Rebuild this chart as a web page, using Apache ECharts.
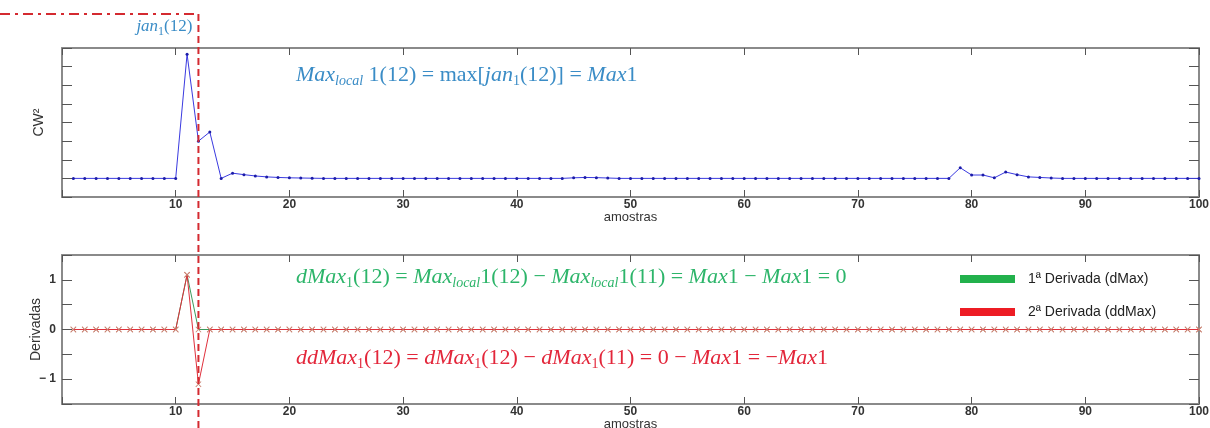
<!DOCTYPE html>
<html><head><meta charset="utf-8">
<script src="https://cdn.jsdelivr.net/npm/echarts@6/dist/echarts.min.js"></script>
<style>html,body{margin:0;padding:0;background:#fff}#c{width:1210px;height:428px}</style>
</head><body><div id="c"></div>
<script>
// CW^2 values for samples 1..100 (arbitrary units, tick units)
var cw2 = [
 0,0,0,0,0,0,0,0,0,0,
 6.67,2.0,2.49,0,0.28,0.2,0.13,0.08,0.05,0.03,
 0.02,0.01,0,0,0,0,0,0,0,0,
 0,0,0,0,0,0,0,0,0,0,
 0,0,0,0,0.03,0.05,0.04,0.02,0,0,
 0,0,0,0,0,0,0,0,0,0,
 0,0,0,0,0,0,0,0,0,0,
 0,0,0,0,0,0,0,0,0.57,0.18,
 0.18,0.03,0.34,0.2,0.08,0.05,0.02,0,0,0,
 0,0,0,0,0,0,0,0,0,0
];
var dMax = [
 0,0,0,0,0,0,0,0,0,0,
 1.1,0,0,0,0,0,0,0,0,0,
 0,0,0,0,0,0,0,0,0,0,
 0,0,0,0,0,0,0,0,0,0,
 0,0,0,0,0,0,0,0,0,0,
 0,0,0,0,0,0,0,0,0,0,
 0,0,0,0,0,0,0,0,0,0,
 0,0,0,0,0,0,0,0,0,0,
 0,0,0,0,0,0,0,0,0,0,
 0,0,0,0,0,0,0,0,0,0
];
var ddMax = [
 0,0,0,0,0,0,0,0,0,0,
 1.1,-1.1,0,0,0,0,0,0,0,0,
 0,0,0,0,0,0,0,0,0,0,
 0,0,0,0,0,0,0,0,0,0,
 0,0,0,0,0,0,0,0,0,0,
 0,0,0,0,0,0,0,0,0,0,
 0,0,0,0,0,0,0,0,0,0,
 0,0,0,0,0,0,0,0,0,0,
 0,0,0,0,0,0,0,0,0,0,
 0,0,0,0,0,0,0,0,0,0
];
var seriesNames = ['1ª Derivada (dMax)', '2ª Derivada (ddMax)'];
var markerSample = 12;

function pairs(arr){ return arr.map(function(v,i){ return [i+1, v]; }); }

var axisGray = '#8a8a8a';
function xAx(grid, pos, show){
  return {type:'value', gridIndex:grid, position:pos, min:0, max:100, interval:10,
    name: (pos==='bottom') ? 'amostras' : '', nameLocation:'middle', nameGap:14, nameMoveOverlap:false,
    nameTextStyle:{color:'#333', fontFamily:'Liberation Sans', fontSize:13},
    axisLine:{show:true, onZero:false, lineStyle:{color:axisGray, width:2}},
    axisTick:{show:true, inside:true, length:7, lineStyle:{color:'#555'}},
    axisLabel:{show:show, margin:2, formatter:function(v){ return v===0?'':String(v); }, color:'#333', fontFamily:'Liberation Sans', fontWeight:'bold', fontSize:12},
    splitLine:{show:false}};
}
function yAx(grid, pos, min, max, interval, name, labelFn, gap){
  return {type:'value', gridIndex:grid, position:pos, min:min, max:max, interval:interval,
    name:name, nameLocation:'middle', nameGap:gap||16, nameMoveOverlap:false,
    nameTextStyle:{color:'#333', fontFamily:'Liberation Sans', fontSize:14},
    axisLine:{show:true, onZero:false, lineStyle:{color:axisGray, width:2}},
    axisTick:{show:true, inside:true, length:10, lineStyle:{color:'#555'}},
    axisLabel:{show:!!labelFn, margin:6, formatter:labelFn || function(){return '';}, color:'#333', fontFamily:'Liberation Sans', fontWeight:'bold', fontSize:12},
    splitLine:{show:false}};
}

var xMark = 'path://M0,1L1,0L5,4L9,0L10,1L6,5L10,9L9,10L5,6L1,10L0,9L4,5Z';

var chart = echarts.init(document.getElementById('c'), null, {renderer:'canvas'});
chart.setOption({
  backgroundColor:'#fff',
  animation:false,
  grid:[
    {left:62, right:11, top:48, bottom:231, outerBoundsMode:'none', containLabel:false},
    {left:62, right:11, top:255, bottom:24, outerBoundsMode:'none', containLabel:false}
  ],
  xAxis:[ xAx(0,'bottom',true), xAx(0,'top',false), xAx(1,'bottom',true), xAx(1,'top',false) ],
  yAxis:[
    yAx(0,'left',-1,7,1,'CW²',null,16),
    yAx(0,'right',-1,7,1,'',null),
    yAx(1,'left',-1.5,1.5,0.5,'Derivadas',function(v){ return v===1?'1':(v===0?'0':(v===-1?'\u2212 1':'')); },19),
    yAx(1,'right',-1.5,1.5,0.5,'',null)
  ],
  legend:{
    orient:'vertical', left:955, top:267, itemWidth:55, itemHeight:8, itemGap:19, icon:'rect',
    textStyle:{color:'#222', fontFamily:'Liberation Sans', fontSize:14, padding:[0,0,0,8]},
    data:[
      {name:seriesNames[0], itemStyle:{color:'#22b14c'}},
      {name:seriesNames[1], itemStyle:{color:'#ed1c24'}}
    ]
  },
  series:[
    {type:'line', xAxisIndex:0, yAxisIndex:0, data:pairs(cw2), symbol:'circle', symbolSize:3,
     lineStyle:{color:'#3a3ae0', width:1}, itemStyle:{color:'#1c1ca8'}, z:3},
    {type:'line', name:seriesNames[0], xAxisIndex:2, yAxisIndex:2, data:pairs(dMax), symbol:xMark, symbolSize:6,
     lineStyle:{color:'#3c9a5c', width:1}, itemStyle:{color:'#c98070'}, z:3},
    {type:'line', name:seriesNames[1], xAxisIndex:2, yAxisIndex:2, data:pairs(ddMax), symbol:xMark, symbolSize:6,
     lineStyle:{color:'#e0303c', width:1}, itemStyle:{color:'#c98070'}, z:4}
  ]
});

var xPix = chart.convertToPixel({xAxisIndex:0}, markerSample);
var F = 'Liberation Serif';
var FS = 22;
function rich(color){
  return {
    i:{fontFamily:F, fontStyle:'italic', fontSize:FS, fill:color, lineHeight:26, verticalAlign:'middle'},
    n:{fontFamily:F, fontSize:FS, fill:color, lineHeight:26, verticalAlign:'middle'},
    s:{fontFamily:F, fontStyle:'italic', fontSize:14, fill:color, lineHeight:14, verticalAlign:'bottom'},
    sn:{fontFamily:F, fontSize:14, fill:color, lineHeight:14, verticalAlign:'bottom'}
  };
}
var blue = '#3a8cc6', green = '#2db56a', red = '#e3263a';
chart.setOption({
  graphic:[
    {type:'line', shape:{x1:xPix, y1:14, x2:xPix, y2:428}, style:{stroke:'#d42a30', lineWidth:2, lineDash:[7,4]}, z:100},
    {type:'line', shape:{x1:0, y1:14, x2:xPix, y2:14}, style:{stroke:'#d42a30', lineWidth:2, lineDash:[10,5,3,5]}, z:100},
    {type:'text', x:xPix-6, y:27, style:{text:'{i|jan}{sn|1}{n|(12)}', fill:blue, align:'right', verticalAlign:'middle', rich:{
      i:{fontFamily:F, fontStyle:'italic', fontSize:17, fill:blue, lineHeight:22, verticalAlign:'middle'},
      n:{fontFamily:F, fontSize:17, fill:blue, lineHeight:22, verticalAlign:'middle'},
      sn:{fontFamily:F, fontSize:12, fill:blue, lineHeight:12, verticalAlign:'bottom'}}}, z:100},
    {type:'text', x:296, y:75, style:{text:'{i|Max}{s|local}{n| 1(12) = max[}{i|jan}{sn|1}{n|(12)] = }{i|Max}{n|1}', fill:blue, verticalAlign:'middle', rich:rich(blue)}, z:100},
    {type:'text', x:296, y:277, style:{text:'{i|dMax}{sn|1}{n|(12) = }{i|Max}{s|local}{n|1(12) \u2212 }{i|Max}{s|local}{n|1(11) = }{i|Max}{n|1 \u2212 }{i|Max}{n|1 = 0}', fill:green, verticalAlign:'middle', rich:rich(green)}, z:100},
    {type:'text', x:296, y:358, style:{text:'{i|ddMax}{sn|1}{n|(12) = }{i|dMax}{sn|1}{n|(12) \u2212 }{i|dMax}{sn|1}{n|(11) = 0 \u2212 }{i|Max}{n|1 = \u2212}{i|Max}{n|1}', fill:red, verticalAlign:'middle', rich:rich(red)}, z:100}
  ]
});
</script>
</body></html>
